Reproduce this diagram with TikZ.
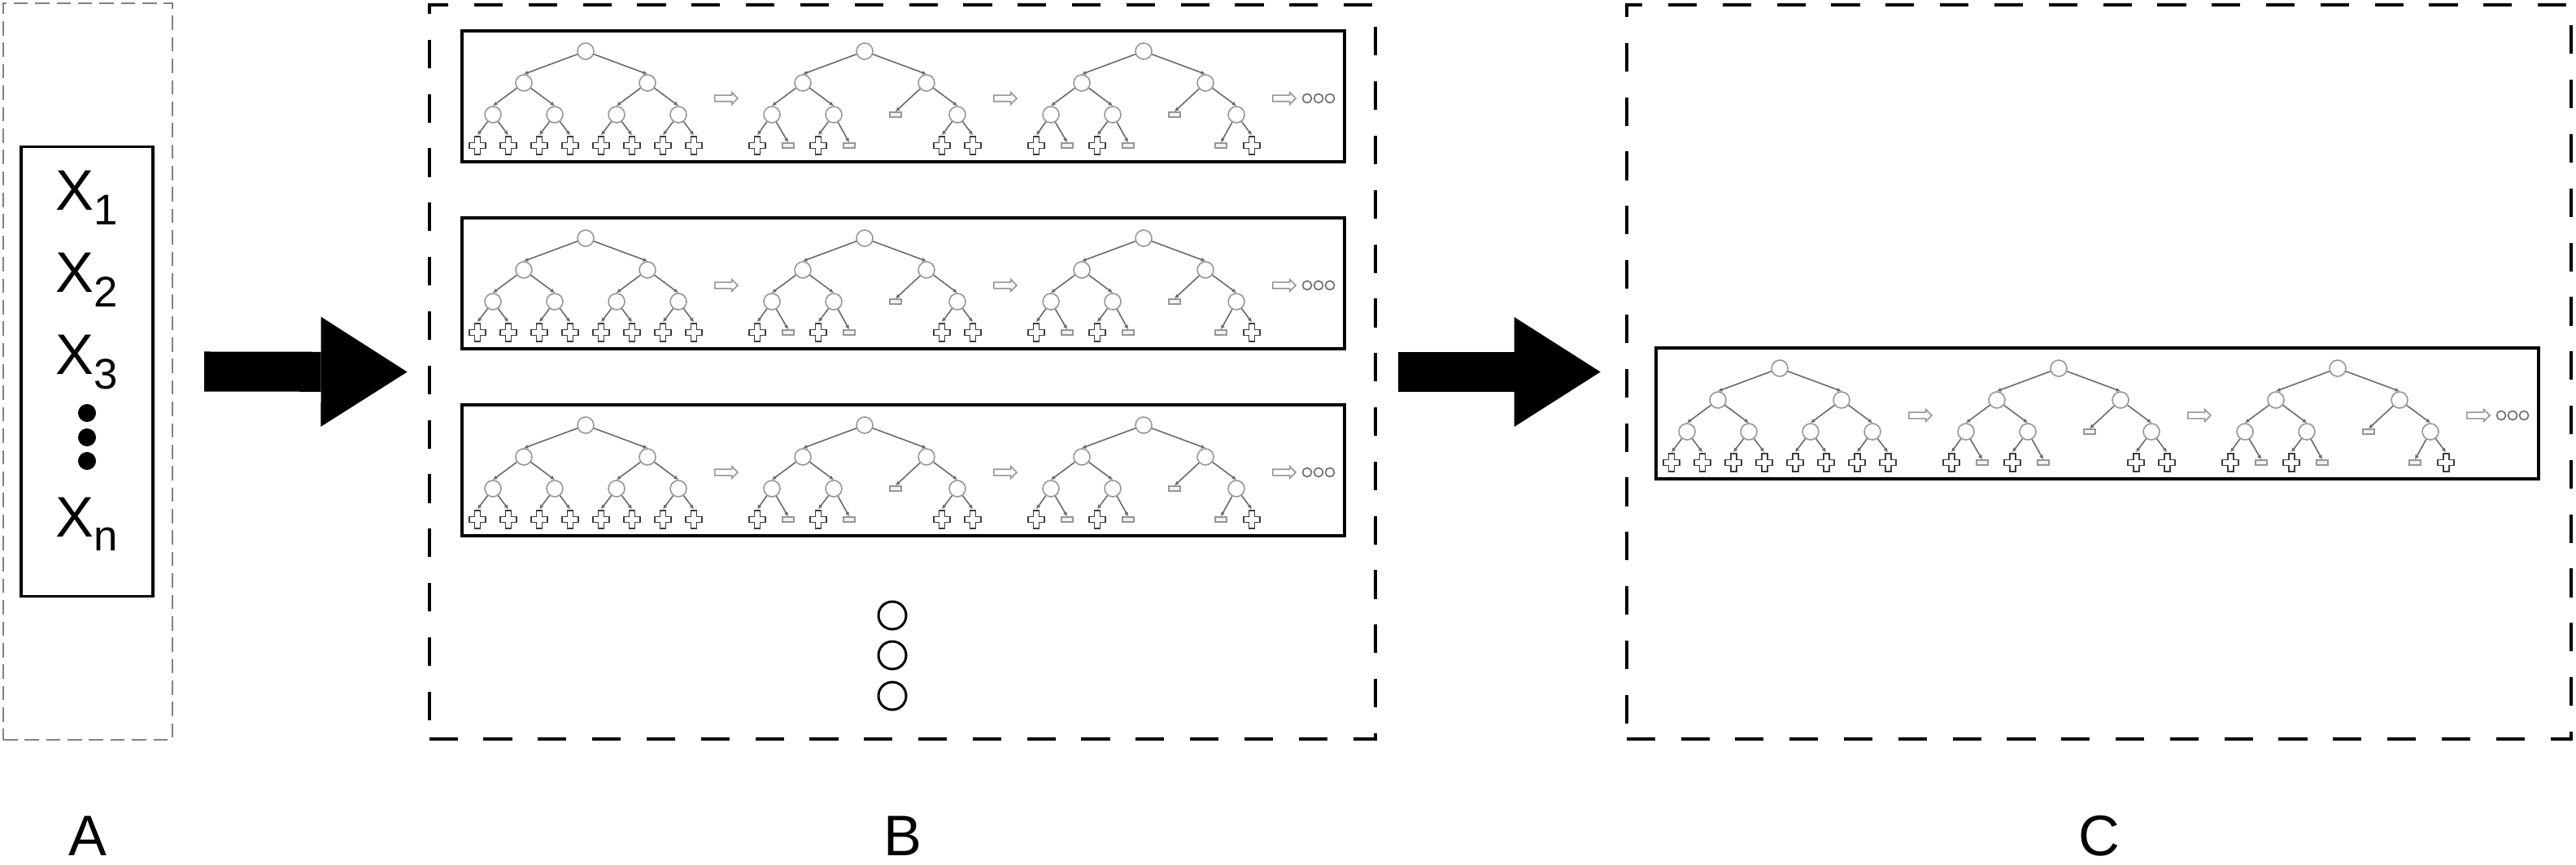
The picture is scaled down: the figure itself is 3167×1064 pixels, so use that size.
\documentclass[tikz,border=0pt]{standalone}
\usepackage{fontspec}
\setmainfont{Liberation Sans}
\usepackage{tikz}
\usetikzlibrary{arrows.meta,shapes.arrows}
\definecolor{EdgeGray}{RGB}{105,105,105}
\definecolor{NodeGray}{RGB}{150,150,150}
\definecolor{LeafGray}{RGB}{60,60,60}
\definecolor{FrameGray}{RGB}{130,130,130}
\newcommand{\xsub}[1]{\raisebox{-0.25em}{\fontsize{15}{15}\selectfont #1}}

\tikzset{
  tnode/.style={circle,draw=NodeGray,line width=0.45pt,minimum size=0.2cm,inner sep=0pt},
  tedge/.style={draw=EdgeGray,line width=0.45pt,-{Latex[length=1.5pt,width=1.5pt]}},
  plusleaf/.style={rectangle,minimum width=0.22cm,minimum height=0.24cm,inner sep=0pt,
    path picture={\draw[LeafGray,line width=0.55pt,shift={(path picture bounding box.center)}]
      (-3.5,-11)--(3.5,-11)--(3.5,-3.5)--(10,-3.5)--(10,3.5)--(3.5,3.5)--(3.5,11)
      --(-3.5,11)--(-3.5,3.5)--(-10,3.5)--(-10,-3.5)--(-3.5,-3.5)--cycle;}},
  dashleaf/.style={rectangle,draw=NodeGray,fill=black!5,line width=0.45pt,
    minimum width=0.14cm,minimum height=0.06cm,inner sep=0pt},
  steparrow/.style={single arrow,draw=NodeGray,line width=0.45pt,minimum height=0.28cm,
    inner xsep=0pt,inner ysep=0.03cm,single arrow head extend=0.035cm},
  morecirc/.style={circle,draw=EdgeGray,line width=0.45pt,minimum size=0.11cm,inner sep=0pt},
  rowbox/.style={draw=black,line width=1.15pt},
  panel/.style={draw=black,line width=1.15pt,dash pattern=on 10pt off 9pt,inner sep=0pt},
  inpanel/.style={draw=FrameGray,line width=0.6pt,dash pattern=on 5pt off 2.5pt,inner sep=0pt},
  bigarrow/.style={line width=0.49cm,-{Triangle[length=1.06cm,width=1.35cm,line width=0pt]}},
  xlab/.style={anchor=base,inner sep=0pt,font=\fontsize{20}{24}\selectfont},
  panlab/.style={anchor=base,inner sep=0pt,font=\fontsize{20}{24}\selectfont},
  pics/fulltree/.style={code={
    \node[tnode] (r) at (0,0) {};
    \foreach \nm/\x/\y in {a/-76/39,b/76/39,aa/-114/78,ab/-38/78,ba/38/78,bb/114/78}
      \node[tnode] (\nm) at (\x,\y) {};
    \foreach \nm/\x in {aaa/-133,aab/-95,aba/-57,abb/-19,baa/19,bab/57,bba/95,bbb/133}
      \node[plusleaf] (\nm) at (\x,116) {};
    \foreach \p/\c in {r/a,r/b,a/aa,a/ab,b/ba,b/bb,aa/aaa,aa/aab,ab/aba,ab/abb,
                       ba/baa,ba/bab,bb/bba,bb/bbb}
      \draw[tedge] (\p) -- (\c.north);
  }},
  pics/prunedtree/.style={code={
    \node[tnode] (r) at (0,0) {};
    \foreach \nm/\x/\y in {a/-76/39,b/76/39,aa/-114/78,ab/-38/78,bb/114/78}
      \node[tnode] (\nm) at (\x,\y) {};
    \node[dashleaf] (ba) at (38,78) {};
    \foreach \nm/\x in {aaa/-132,aba/-57,bbb/133}
      \node[plusleaf] (\nm) at (\x,116) {};
    \foreach \nm/\x in {aab/-94,abb/-19}
      \node[dashleaf] (\nm) at (\x,116) {};
    \node[#1] (bba) at (95,116) {};
    \foreach \p/\c in {r/a,r/b,a/aa,a/ab,b/ba,b/bb,aa/aaa,aa/aab,ab/aba,ab/abb,bb/bba,bb/bbb}
      \draw[tedge] (\p) -- (\c.north);
  }},
  pics/treerow/.style={code={
    \draw[rowbox] (0,0) rectangle (1085,161);
    \pic (t1) at (152,25) {fulltree};
    \pic (t2) at (495,25) {prunedtree=plusleaf};
    \pic (t3) at (838,25) {prunedtree=dashleaf};
    \foreach \k/\x in {1/323,2/666,3/1009}
      \node[steparrow] (s\k) at (\x,83) {};
    \foreach \k/\x in {1/1039,2/1053,3/1067}
      \node[morecirc] (o\k) at (\x,83) {};
  }}
}

\begin{document}
\begin{tikzpicture}[x=0.01cm,y=-0.01cm]
  \useasboundingbox (0,0) rectangle (3167,1064);

  % panels
  \node[inpanel,minimum width=2.08cm,minimum height=9.06cm] (pA) at (108,457) {};
  \node[panel,minimum width=11.63cm,minimum height=9.03cm] (pB) at (1109.5,457.5) {};
  \node[panel,minimum width=11.61cm,minimum height=9.03cm] (pC) at (2580.5,457.5) {};

  % input variables
  \node[draw,line width=0.9pt,minimum width=1.62cm,minimum height=5.52cm,inner sep=0pt]
    (inbox) at (107,457) {};
  \node[xlab] (x1) at (107,259) {X\xsub{1}};
  \node[xlab] (x2) at (107,360) {X\xsub{2}};
  \node[xlab] (x3) at (107,461) {X\xsub{3}};
  \foreach \k/\y in {1/508,2/538,3/567}
    \node[circle,fill=black,minimum size=0.22cm,inner sep=0pt] (dot\k) at (107,\y) {};
  \node[xlab] (xn) at (107,660) {X\xsub{n}};

  % arrows between panels
  \draw[bigarrow] ([xshift=0.38cm]pA.east) -- ([xshift=-0.25cm]pB.west);
  \draw[bigarrow] ([xshift=0.26cm]pB.east) -- ([xshift=-0.30cm]pC.west);

  % sequences of trees
  \pic (rowB1) at (568,38) {treerow};
  \pic (rowB2) at (568,268) {treerow};
  \pic (rowB3) at (568,498) {treerow};
  \foreach \k/\y in {1/757,2/806,3/856}
    \node[circle,draw,line width=0.85pt,minimum size=0.34cm,inner sep=0pt] (more\k) at (1097,\y) {};
  \pic (rowC) at (2036,428) {treerow};

  % panel labels
  \coordinate (labbase) at (0,1052);
  \node[panlab] (labA) at (pA |- labbase) {A};
  \node[panlab] (labB) at (pB |- labbase) {B};
  \node[panlab] (labC) at (pC |- labbase) {C};
\end{tikzpicture}
\end{document}
